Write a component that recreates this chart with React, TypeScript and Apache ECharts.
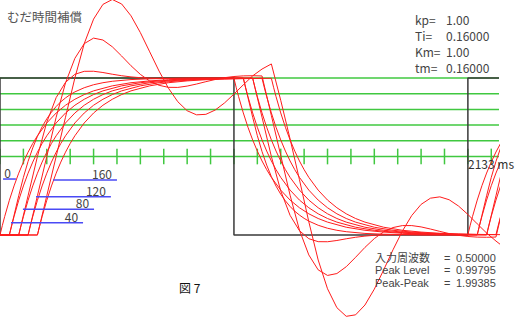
import { useEffect, useRef } from "react";
import * as echarts from "echarts";

// ---- axes / frame values ----
const T_END = 2133; // ms shown
const Y_MIN = -2.1083;
const Y_MAX = 1.9936;
const gridLevels = [0, 0.2, 0.4, 0.6, 0.8, 1.0];
const tickTimes = [0, 100, 200, 300, 400, 500, 600, 700, 800, 900, 1000, 1100, 1200, 1300, 1400, 1500, 1600, 1700, 1800, 1900, 2000, 2100];
const tickHalf = 0.1;

// ---- input square wave (ms, level) ----
const squareWave: [number, number][] = [
  [0, -1], [0, 1], [1000, 1], [1000, -1], [2000, -1], [2000, 1], [2133, 1],
];

// ---- response without dead time (ms, level) ----
const resp0: [number, number][] = [
  [0, -1], [10, -0.879], [20, -0.765], [40, -0.558], [60, -0.375], [80, -0.213], [100, -0.071], [120, 0.055],
  [140, 0.166], [160, 0.264], [200, 0.427], [240, 0.554], [280, 0.653], [320, 0.729], [360, 0.789], [400, 0.836],
  [480, 0.9], [560, 0.94], [640, 0.963], [720, 0.978], [800, 0.987], [900, 0.993], [1000, 0.996],
  [1010, 0.875], [1020, 0.762], [1040, 0.555], [1060, 0.372], [1080, 0.211], [1100, 0.069], [1120, -0.057],
  [1140, -0.168], [1160, -0.266], [1200, -0.428], [1240, -0.555], [1280, -0.653], [1320, -0.73], [1360, -0.79],
  [1400, -0.836], [1480, -0.901], [1560, -0.94], [1640, -0.963], [1720, -0.978], [1800, -0.987], [1900, -0.993],
  [2000, -0.996], [2010, -0.875], [2020, -0.762], [2040, -0.555], [2060, -0.372], [2080, -0.211], [2100, -0.069],
  [2120, 0.057], [2140, 0.168], [2160, 0.266],
];

// ---- compensated curves: the response above, delayed by (ms) ----
const compDelays = [40, 80, 120, 160];

// ---- uncompensated responses with dead time (ms, level) ----
const resp40: [number, number][] = [
  [0, -1], [40, -1], [60, -0.75], [80, -0.5], [100, -0.266], [120, -0.0625], [140, 0.11], [160, 0.256], [180, 0.378],
  [200, 0.48], [220, 0.565], [240, 0.637], [260, 0.697], [280, 0.746], [300, 0.788], [320, 0.823], [360, 0.876],
  [400, 0.914], [440, 0.94], [480, 0.958], [560, 0.98], [640, 0.99], [800, 0.998], [1000, 1.0],
  [1040, 1.0], [1060, 0.75], [1080, 0.5], [1100, 0.266], [1120, 0.0625], [1140, -0.11], [1160, -0.256], [1180, -0.378],
  [1200, -0.48], [1220, -0.565], [1240, -0.637], [1260, -0.697], [1280, -0.746], [1300, -0.788], [1320, -0.823],
  [1360, -0.876], [1400, -0.914], [1440, -0.94], [1480, -0.958], [1560, -0.98], [1640, -0.99], [1800, -0.998],
  [2000, -1.0], [2040, -1.0], [2060, -0.75], [2080, -0.5], [2100, -0.266], [2120, -0.0625], [2140, 0.11], [2160, 0.256],
];

const resp80: [number, number][] = [
  [0, -1], [80, -1], [120, -0.5], [160, 0], [200, 0.4375], [240, 0.75], [280, 0.945], [320, 1.047], [360, 1.085],
  [400, 1.086], [440, 1.07], [480, 1.048], [520, 1.029], [560, 1.014], [600, 1.004], [640, 0.999], [680, 0.997],
  [720, 0.996], [760, 0.997], [800, 0.998], [880, 0.999], [960, 1.0], [1000, 1.0], [1080, 1.0],
  [1120, 0.5], [1160, 0], [1200, -0.4375], [1240, -0.75], [1280, -0.945], [1320, -1.047], [1360, -1.085],
  [1400, -1.086], [1440, -1.07], [1480, -1.048], [1520, -1.029], [1560, -1.014], [1600, -1.004], [1640, -0.999],
  [1680, -0.997], [1720, -0.996], [1760, -0.997], [1800, -0.998], [1880, -0.999], [1960, -1.0], [2000, -1.0],
  [2080, -1.0], [2120, -0.5], [2160, 0],
];

const resp120: [number, number][] = [
  [0, -1], [120, -1], [160, -0.5], [200, 0], [240, 0.5], [280, 0.9375], [320, 1.25], [360, 1.4375], [400, 1.508],
  [440, 1.484], [480, 1.398], [520, 1.28], [560, 1.156], [600, 1.046], [640, 0.961], [680, 0.907], [720, 0.881],
  [760, 0.88], [800, 0.897], [840, 0.923], [880, 0.953], [920, 0.981], [960, 1.004], [1000, 1.019], [1040, 1.027],
  [1080, 1.029], [1120, 1.026], [1160, 0.521], [1200, 0.014], [1240, -0.493], [1280, -0.937], [1320, -1.254],
  [1360, -1.444], [1400, -1.515], [1440, -1.491], [1480, -1.404], [1520, -1.284], [1560, -1.158], [1600, -1.046],
  [1640, -0.96], [1680, -0.905], [1720, -0.88], [1760, -0.88], [1800, -0.897], [1840, -0.924], [1880, -0.954],
  [1920, -0.982], [1960, -1.004], [2000, -1.019], [2040, -1.027], [2080, -1.029], [2120, -1.026], [2160, -0.52],
];

const resp160: [number, number][] = [
  [0, -1], [160, -1], [200, -0.5], [240, 0], [280, 0.5], [320, 1.0], [360, 1.4375], [400, 1.75], [440, 1.9375],
  [480, 2.0], [520, 1.943], [560, 1.792], [600, 1.578], [640, 1.333], [680, 1.088], [720, 0.87], [760, 0.698],
  [800, 0.583], [840, 0.531], [880, 0.537], [920, 0.592], [960, 0.683], [1000, 0.795], [1040, 0.913], [1080, 1.027],
  [1120, 1.114], [1160, 1.179], [1200, 0.716], [1240, 0.223], [1280, -0.295], [1320, -0.831], [1360, -1.318],
  [1400, -1.685], [1440, -1.926], [1480, -2.036], [1520, -2.017], [1560, -1.892], [1600, -1.69], [1640, -1.445],
  [1680, -1.188], [1720, -0.95], [1760, -0.752], [1800, -0.61], [1840, -0.531], [1880, -0.514], [1920, -0.551],
  [1960, -0.631], [2000, -0.738], [2040, -0.858], [2080, -0.975], [2120, -1.077], [2160, -1.17],
];

// ---- dead-time marker bars (label, start ms, end ms, level) ----
const barLabels = ["0", "40", "80", "120", "160"];
const barStart = [13, 47, 98, 154, 227];
const barEnd = [68, 355, 402, 474, 500];
const barLevel = [-0.287, -0.844, -0.673, -0.512, -0.3];

// ---- texts ----
const titleText = "むだ時間補償";
const paramKeys = ["kp=", "Ti=", "Km=", "tm="];
const paramVals = ["1.00", "0.16000", "1.00", "0.16000"];
const statKeys = ["入力周波数", "Peak Level", "Peak-Peak"];
const statVals = ["0.50000", "0.99795", "1.99385"];
const endLabel = "2133 ms";
const figLabel = "図 7";

const FONT = '"Noto Sans CJK JP", "DejaVu Sans", sans-serif';
const TIGHT_FONT = '"Liberation Sans", "Noto Sans CJK JP", sans-serif';
const RED = "#ff1c1c";
const GREEN = "#40c840";
const BLUE = "#4a4af5";
const BLACK = "#3a3a3a";

export default function App() {
  const ref = useRef<HTMLDivElement>(null);
  useEffect(() => {
    document.body.style.margin = "0";
    const chart = echarts.init(ref.current!, null, { renderer: "svg" });

    const lineBase = (data: [number, number][], color: string, width: number, z: number) => ({
      type: "line",
      data,
      symbol: "none",
      smooth: false,
      silent: true,
      z,
      lineStyle: { color, width },
    });

    const series: any[] = [];
    gridLevels.forEach((lv) => {
      series.push(lineBase([[0, lv], [T_END, lv]], GREEN, 1.5, 1));
    });
    series.push({
      type: "custom",
      z: 2,
      silent: true,
      data: tickTimes.map((t) => [t]),
      renderItem: (_p: any, api: any) => {
        const t = api.value(0);
        const a = api.coord([t, -tickHalf]);
        const b = api.coord([t, tickHalf]);
        return {
          type: "line",
          shape: { x1: a[0], y1: a[1], x2: b[0], y2: b[1] },
          style: { stroke: GREEN, lineWidth: 1.5 },
        };
      },
    });
    series.push(lineBase(squareWave, BLACK, 1.5, 3));
    const curves: [number, number][][] = [resp0, resp40, resp80, resp120, resp160];
    compDelays.forEach((d) => {
      curves.push([[0, -1], ...resp0.map(([t, v]) => [t + d, v] as [number, number])]);
    });
    curves.forEach((c) => series.push(lineBase(c, RED, 1, 4)));

    series.push({
      type: "custom",
      z: 5,
      silent: true,
      data: barLabels.map((_, i) => [barStart[i], barEnd[i], barLevel[i], i]),
      renderItem: (_p: any, api: any) => {
        const s = api.coord([api.value(0), api.value(2)]);
        const e = api.coord([api.value(1), api.value(2)]);
        const i = api.value(3);
        return {
          type: "group",
          children: [
            {
              type: "line",
              shape: { x1: s[0], y1: s[1], x2: e[0], y2: e[1] },
              style: { stroke: BLUE, lineWidth: 1.5 },
            },
            {
              type: "text",
              x: e[0] - 5,
              y: e[1] - 6.5,
              style: {
                text: barLabels[i],
                fontSize: 12,
                fontFamily: FONT,
                fill: "#444",
                align: "right",
                verticalAlign: "middle",
              },
            },
          ],
        };
      },
    });

    const txt = (text: string, x: number, y: number, fill: string, size = 12, family = FONT) => ({
      type: "text",
      x,
      y,
      silent: true,
      z: 10,
      style: {
        text,
        fontSize: size,
        fontFamily: family,
        fill,
        verticalAlign: "middle",
        align: "left",
      },
    });
    const graphic: any[] = [txt(titleText, 7, 16, "#555", 12.5)];
    const pRows = [19.5, 35, 51.5, 67.5];
    paramKeys.forEach((k, i) => {
      graphic.push(txt(k, 415, pRows[i], "#444"));
      graphic.push(txt(paramVals[i], 446, pRows[i], "#444"));
    });
    const sRows = [257.5, 270, 282.5];
    statKeys.forEach((k, i) => {
      graphic.push(txt(k, 375, sRows[i], "#444", 11, TIGHT_FONT));
      graphic.push(txt("=", 444, sRows[i], "#444", 11, TIGHT_FONT));
      graphic.push(txt(statVals[i], 456, sRows[i], "#444", 11, TIGHT_FONT));
    });
    graphic.push(txt(endLabel, 468, 163, "#333"));
    graphic.push(txt(figLabel, 179, 287, "#111"));

    chart.setOption({
      animation: false,
      backgroundColor: "#fff",
      grid: { left: 0, top: 0, width: 499, height: 322, containLabel: false },
      xAxis: { type: "value", min: 0, max: T_END, show: false },
      yAxis: { type: "value", min: Y_MIN, max: Y_MAX, show: false },
      series,
      graphic,
    });
    return () => chart.dispose();
  }, []);
  return <div ref={ref} style={{ width: 518, height: 322 }} />;
}
